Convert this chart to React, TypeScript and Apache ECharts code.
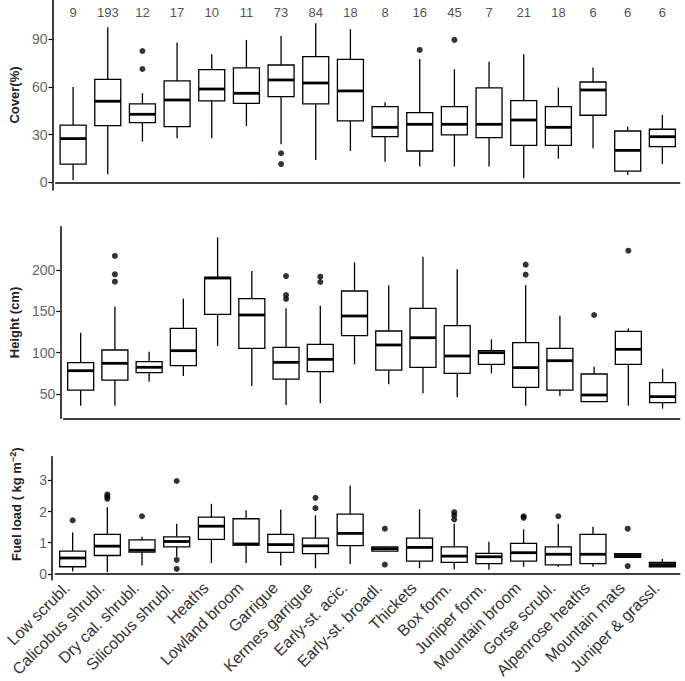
import React, { useEffect, useRef } from "react";
import * as echarts from "echarts";

const categories = [
  "Low scrubl.", "Calicobus shrubl.", "Dry cal. shrubl.", "Silicobus shrubl.", "Heaths",
  "Lowland broom", "Garrigue", "Kermes garrigue", "Early-st. acic.", "Early-st. broadl.",
  "Thickets", "Box form.", "Juniper form.", "Mountain broom", "Gorse scrubl.",
  "Alpenrose heaths", "Mountain mats", "Juniper & grassl.",
];
const counts = [9, 193, 12, 17, 10, 11, 73, 84, 18, 8, 16, 45, 7, 21, 18, 6, 6, 6];

// [low whisker, Q1, median, Q3, high whisker]
const coverBoxes = [
  [1.5, 11.5, 27.5, 36, 60], [5, 35.7, 51, 64.8, 97.5], [25.6, 37.5, 42.8, 49.3, 56],
  [27.7, 35, 51.8, 63.8, 87.9], [27.7, 51.2, 58.7, 70.9, 80.6], [35.5, 49.7, 56, 72, 89.6],
  [23.9, 53.9, 64.4, 73.8, 92.1], [14, 49.3, 62.5, 79.1, 100], [19.7, 38.6, 57.5, 77.4, 96.3],
  [13, 28.7, 34.6, 47.6, 50.3], [9.9, 19.7, 36.5, 43.8, 77.6], [9.9, 29.8, 36.5, 47.6, 71.1],
  [9.9, 28.1, 36.5, 59.4, 75.9], [2.5, 23.3, 39.2, 51.4, 80.6], [14.9, 23.3, 34.6, 47.6, 59.6],
  [21.4, 42.2, 58.1, 63.1, 72.2], [4.6, 7.1, 20.1, 32.3, 35], [11.5, 22.4, 28.7, 33.4, 42.4],
];
const coverOutliers = [[2, 82.6], [2, 71.3], [6, 18.3], [6, 11.5], [10, 83.3], [11, 89.6]];

const heightBoxes = [
  [35.9, 54.8, 78.2, 87.9, 124], [35.9, 66.9, 87.1, 103.2, 155.6], [64.9, 75.8, 82.3, 89.1, 101.2],
  [71.8, 84.3, 102.4, 129.4, 165.3], [108.1, 146.4, 190.3, 191.1, 239.5], [59.7, 105.2, 145.6, 165.3, 198.8],
  [36.7, 68.1, 88.3, 106.5, 153.6], [38.7, 77, 91.9, 110.1, 156.9], [85.9, 120.6, 144.4, 174.6, 209.3],
  [61.7, 79, 109.3, 126.2, 181.5], [50.8, 82.3, 118.1, 153.6, 216.1], [46, 75, 96, 132.7, 200.8],
  [75, 85.9, 100, 102.4, 116.1], [35.9, 58.1, 81.9, 112.1, 181.5], [47.6, 54.8, 90.3, 105.2, 144.8],
  [40.7, 40.7, 48.8, 74.2, 83.1], [35.9, 85.9, 104, 125.8, 129.4], [32.3, 39.5, 46.8, 63.7, 80.6],
];
const heightOutliers = [
  [1, 217], [1, 194.8], [1, 185.9], [6, 192.7], [6, 169.8], [6, 164.9], [7, 191.9], [7, 185.5],
  [13, 206.5], [13, 194.4], [15, 145.6], [16, 223.4],
];

const fuelBoxes = [
  [0.08, 0.23, 0.51, 0.73, 1.33], [0.05, 0.59, 0.89, 1.27, 2.14], [0.27, 0.7, 0.76, 1.09, 1.19],
  [0.55, 0.87, 1.04, 1.19, 1.61], [0.35, 1.11, 1.53, 1.82, 2.25], [0.35, 0.92, 0.96, 1.77, 2.04],
  [0.27, 0.69, 0.94, 1.27, 2.07], [0.18, 0.65, 0.9, 1.15, 1.88], [0.32, 0.91, 1.3, 1.92, 2.84],
  [0.72, 0.73, 0.81, 0.87, 0.88], [0.18, 0.41, 0.85, 1.15, 2.07], [0.14, 0.37, 0.57, 0.87, 1.61],
  [0.13, 0.33, 0.55, 0.66, 1.03], [0.23, 0.41, 0.68, 0.98, 1.43], [0.23, 0.29, 0.63, 0.87, 1.61],
  [0.23, 0.33, 0.63, 1.27, 1.51], [0.52, 0.53, 0.59, 0.65, 0.66], [0.23, 0.23, 0.3, 0.37, 0.48],
];
const fuelOutliers = [
  [0, 1.72], [1, 2.55], [1, 2.48], [1, 2.41], [2, 1.85], [3, 2.98], [3, 0.45], [3, 0.16],
  [7, 2.44], [7, 2.11], [9, 1.45], [9, 0.3], [11, 1.98], [11, 1.88], [11, 1.75],
  [13, 1.85], [13, 1.8], [14, 1.85], [16, 1.45], [16, 0.25],
];

const coverTicks = [0, 30, 60, 90];
const heightTicks = [50, 100, 150, 200];
const fuelTicks = [0, 1, 2, 3];

const FONT = "Liberation Sans, Arial, sans-serif";

const renderBox = (params: any, api: any) => {
  const x = api.value(0);
  const lo = api.coord([x, api.value(1)]);
  const q1 = api.coord([x, api.value(2)]);
  const md = api.coord([x, api.value(3)]);
  const q3 = api.coord([x, api.value(4)]);
  const hi = api.coord([x, api.value(5)]);
  const w = 26;
  const cx = lo[0];
  const ls = { stroke: "#000", lineWidth: 1.3, fill: "none" };
  return {
    type: "group",
    children: [
      { type: "line", shape: { x1: cx, y1: hi[1], x2: cx, y2: q3[1] }, style: ls },
      { type: "line", shape: { x1: cx, y1: q1[1], x2: cx, y2: lo[1] }, style: ls },
      {
        type: "rect",
        shape: { x: cx - w / 2, y: q3[1], width: w, height: q1[1] - q3[1] },
        style: { fill: "#fff", stroke: "#000", lineWidth: 1.3 },
      },
      {
        type: "line",
        shape: { x1: cx - w / 2, y1: md[1], x2: cx + w / 2, y2: md[1] },
        style: { stroke: "#000", lineWidth: 2.8 },
      },
    ],
  };
};

export default function App() {
  const ref = useRef<HTMLDivElement>(null);
  useEffect(() => {
    if (!ref.current) return;
    const chart = echarts.init(ref.current, null, { renderer: "svg" });
    const gridL = 43.3;
    const gridR = 5.3;
    const grids = [
      { left: gridL, right: gridR, top: 0, height: 190 },
      { left: gridL, right: gridR, top: 226.7, height: 191.6 },
      { left: gridL, right: gridR, top: 456.7, height: 124.3 },
    ];
    const xAxes = [0, 1, 2].map((i) => ({
      type: "category",
      gridIndex: i,
      data: categories,
      boundaryGap: true,
      axisLine: { lineStyle: { color: "#000", width: 1.5 } },
      axisTick: { alignWithLabel: true, length: 4, lineStyle: { color: "#000", width: 1.2 } },
      axisLabel: i === 2
        ? {
            show: true, rotate: 45, interval: 0, fontSize: 16, color: "#333", fontFamily: FONT,
            margin: 11, verticalAlign: "bottom",
          }
        : { show: false },
    }));
    const yBase = (i: number, min: number, max: number, ticks: number[], name: any, extra?: any) => ({
      type: "value",
      gridIndex: i,
      min,
      max,
      offset: gridL - 40,
      splitLine: { show: false },
      axisLine: { show: true, lineStyle: { color: "#000", width: 1.5 } },
      axisTick: { show: true, length: 4, customValues: ticks, lineStyle: { color: "#000", width: 1.2 } },
      axisLabel: { customValues: ticks, fontSize: 14, color: "#666", fontFamily: FONT, margin: 5 },
      name,
      nameLocation: "middle",
      nameGap: 27,
      nameTextStyle: { fontSize: 13, fontWeight: "bold", color: "#222", fontFamily: FONT, ...(extra || {}) },
    });
    const yAxes = [
      yBase(0, -4.83, 114.7, coverTicks, "Cover(%)"),
      yBase(1, 20.6, 252.4, heightTicks, "Height (cm)"),
      yBase(2, -0.19, 3.76, fuelTicks, "Fuel load ( kg m{sup|−2})", {
        padding: [0, 0, 0, 28],
        rich: {
          sup: { fontSize: 9, fontWeight: "bold", color: "#222", fontFamily: FONT, verticalAlign: "top", padding: [0, 0, 8, 0] },
        },
      }),
    ];
    const boxSeries = [coverBoxes, heightBoxes, fuelBoxes].map((b, i) => ({
      type: "custom",
      xAxisIndex: i,
      yAxisIndex: i,
      renderItem: renderBox,
      encode: { x: 0, y: [1, 2, 3, 4, 5] },
      data: b.map((v, k) => [k, ...v]),
      z: 2,
    }));
    const outSeries = [coverOutliers, heightOutliers, fuelOutliers].map((o, i) => ({
      type: "scatter",
      xAxisIndex: i,
      yAxisIndex: i,
      symbol: "circle",
      symbolSize: 6,
      itemStyle: { color: "#000" },
      data: o,
      z: 3,
    }));
    const countSeries = {
      type: "scatter",
      xAxisIndex: 0,
      yAxisIndex: 0,
      symbolSize: 0,
      data: counts.map((c, k) => [k, 106.6, c]),
      label: {
        show: true,
        position: "inside",
        formatter: (p: any) => String(p.value[2]),
        fontSize: 13,
        color: "#222",
        fontFamily: FONT,
      },
      z: 4,
    };
    chart.setOption({
      animation: false,
      backgroundColor: "#fff",
      grid: grids,
      xAxis: xAxes,
      yAxis: yAxes,
      series: [...boxSeries, ...outSeries, countSeries],
    });
    return () => chart.dispose();
  }, []);
  return <div ref={ref} style={{ width: 685, height: 681, position: "absolute", left: 0, top: 0 }} />;
}
